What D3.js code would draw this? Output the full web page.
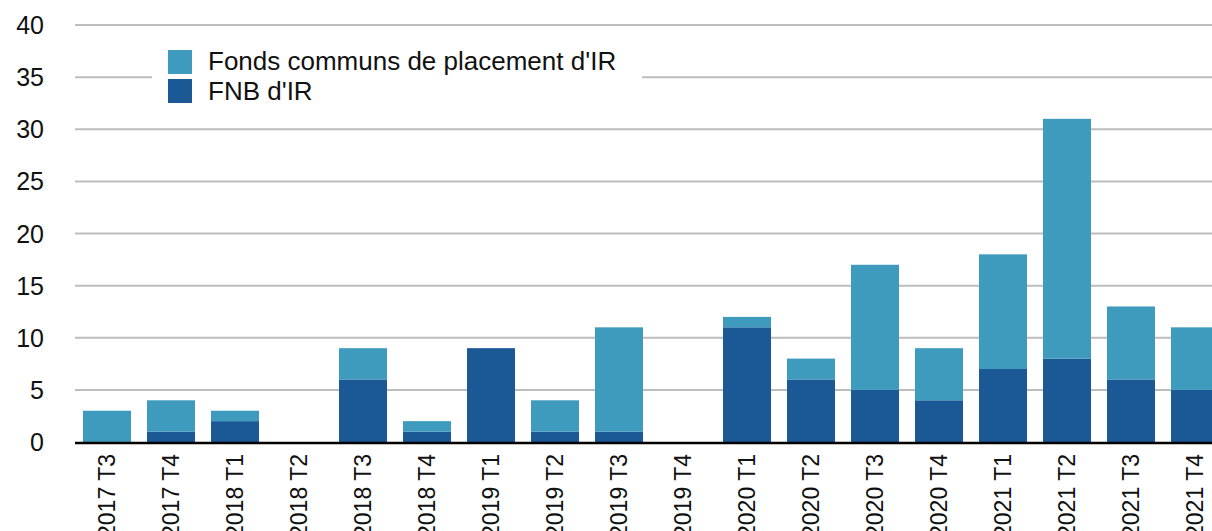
<!DOCTYPE html>
<html>
<head>
<meta charset="utf-8">
<script src="https://cdn.jsdelivr.net/npm/d3@7"></script>
<style>
  body { margin: 0; background: #fff; }
  svg { display: block; font-family: "Liberation Sans", Arial, sans-serif; }
</style>
</head>
<body>
<svg id="chart" width="1212" height="531"></svg>
<script>
// ---- data ----
const quarters = ['2017 T3', '2017 T4', '2018 T1', '2018 T2', '2018 T3', '2018 T4',
    '2019 T1', '2019 T2', '2019 T3', '2019 T4', '2020 T1', '2020 T2', '2020 T3',
    '2020 T4', '2021 T1', '2021 T2', '2021 T3', '2021 T4'];
const fnb = [0, 1, 2, 0, 6, 1, 9, 1, 1, 0, 11, 6, 5, 4, 7, 8, 6, 5];
const fonds = [3, 3, 1, 0, 3, 1, 0, 3, 10, 0, 1, 2, 12, 5, 11, 23, 7, 6];
const yTicks = [0, 5, 10, 15, 20, 25, 30, 35, 40];
const seriesNames = ["Fonds communs de placement d'IR", "FNB d'IR"];
const colors = { fonds: '#3e9bbd', fnb: '#1a5896' };

// ---- layout ----
const svg = d3.select('#chart');
const plotLeft = 75, plotTop = 25, plotBottom = 442;

const x = d3.scaleBand().domain(quarters).range([plotLeft, plotLeft + quarters.length * 64]).paddingInner(0.25).paddingOuter(0.125);
const y = d3.scaleLinear().domain([0, 40]).range([plotBottom, plotTop]);

// gridlines
svg.append('g').selectAll('line').data(yTicks.filter(d => d > 0)).enter().append('line')
    .attr('x1', plotLeft).attr('x2', 1212)
    .attr('y1', d => y(d)).attr('y2', d => y(d))
    .attr('stroke', '#bdbdbd').attr('stroke-width', 2);

// y tick labels
svg.append('g').selectAll('text').data(yTicks).enter().append('text')
    .attr('x', 44).attr('y', d => y(d)).attr('dy', '0.36em')
    .attr('text-anchor', 'end').attr('font-size', 25).attr('fill', '#111')
    .text(d => d);

// stacked bars
const rows = quarters.map((q, i) => ({ q: q, fnb: fnb[i], fonds: fonds[i] }));
const stack = d3.stack().keys(['fnb', 'fonds'])(rows);
svg.append('g').selectAll('g').data(stack).enter().append('g')
    .attr('fill', d => colors[d.key])
    .selectAll('rect').data(d => d).enter().append('rect')
    .attr('x', d => x(d.data.q)).attr('width', x.bandwidth())
    .attr('y', d => y(d[1])).attr('height', d => y(d[0]) - y(d[1]));

// baseline
svg.append('line').attr('x1', plotLeft).attr('x2', 1212).attr('y1', plotBottom + 1).attr('y2', plotBottom + 1)
    .attr('stroke', '#000').attr('stroke-width', 2.5);

// x labels, rotated
svg.append('g').selectAll('text').data(quarters).enter().append('text')
    .attr('transform', d => 'translate(' + (x(d) + x.bandwidth() / 2) + ',' + (plotBottom + 12) + ') rotate(-90)')
    .attr('dy', '0.36em').attr('text-anchor', 'end').attr('font-size', 23).attr('fill', '#111')
    .text(d => d);

// legend
const legend = svg.append('g');
legend.append('rect').attr('x', 152).attr('y', 45).attr('width', 490).attr('height', 62).attr('fill', '#fff');
const legendKeys = ['fonds', 'fnb'];
legendKeys.forEach(function (k, i) {
    legend.append('rect').attr('x', 168).attr('y', 50 + i * 29).attr('width', 24).attr('height', 24).attr('fill', colors[k]);
    legend.append('text').attr('x', 208).attr('y', 70 + i * 30)
        .attr('font-size', 26).attr('fill', '#111').text(seriesNames[i]);
});
</script>
</body>
</html>
